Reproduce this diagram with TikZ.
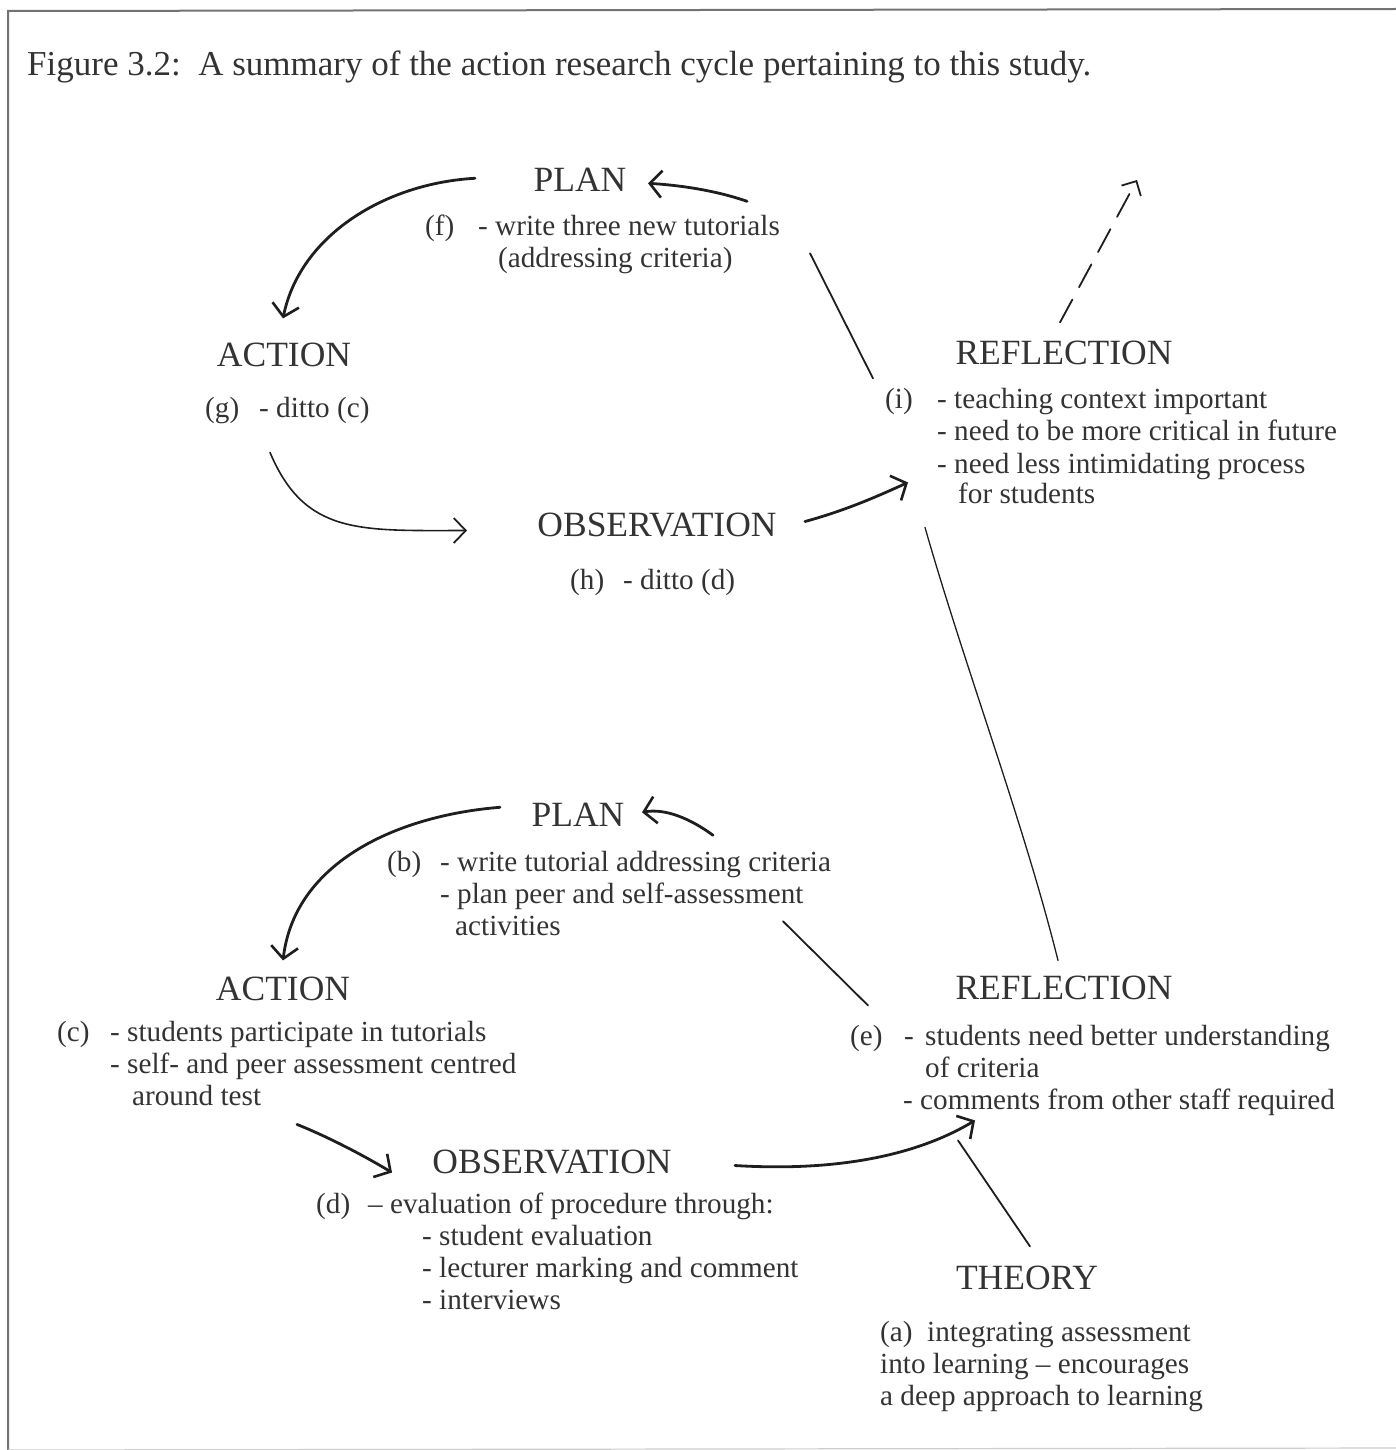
\documentclass[tikz,border=0pt]{standalone}
\usepackage{fontspec}
\setmainfont{Liberation Serif}
\usetikzlibrary{arrows.meta,calc}
\definecolor{ink}{HTML}{333333}
\definecolor{pen}{HTML}{1E1E1E}
\tikzset{
  head/.style={font=\fontsize{35.5}{40}\selectfont, inner sep=0pt, anchor=base, text=ink},
  body/.style={font=\fontsize{29.2}{34}\selectfont, inner sep=0pt, anchor=base west, text=ink},
  ttl/.style={font=\fontsize{35}{40}\selectfont, inner sep=0pt, anchor=base west, text=ink},
  heavy/.style={draw=pen, line width=2.8pt, line cap=round, -{Straight Barb[length=12pt,width=27pt,line width=2.6pt]}},
  light/.style={draw=pen, line width=1.6pt, line cap=round, -{Straight Barb[length=12pt,width=25pt,line width=1.8pt]}},
  plainline/.style={draw=pen, line width=1.8pt, line cap=round},
  thinline/.style={draw=pen, line width=1.3pt, line cap=round},
  frameline/.style={draw=black!55, line width=2pt}
}
\begin{document}
\begin{tikzpicture}[x=1pt,y=-1pt]
\useasboundingbox (0,0) rectangle (1396,1450);
% frame
\coordinate (ftl) at (8,11);
\coordinate (ftr) at (1396,9);
\coordinate (fbl) at (8,1450);
\coordinate (fbr) at (1396,1448);
\draw[frameline] (ftr) -- (ftl) -- (fbl);
\draw[draw=black!20, line width=1.2pt] (fbl) -- (fbr);

% title
\node[ttl] (title) at (27,76) {Figure 3.2:\enspace A summary of the action research cycle pertaining to this study.};

% ---------- upper cycle ----------
\node[head] (plantop) at (580,192) {PLAN};
\node[body] (flab) at (425,235) {(f)};
\node[body] (fl1) at (478,235) {- write three new tutorials};
\node[body] (fl2) at (498,267) {(addressing criteria)};

\node[head] (acttop) at (284,366) {ACTION};
\node[body] (glab) at (205,417) {(g)};
\node[body] (gl1) at (259,417) {- ditto (c)};

\node[head] (obstop) at (657,536) {OBSERVATION};
\node[body] (hlab) at (570,589) {(h)};
\node[body] (hl1) at (623,589) {- ditto (d)};

\node[head] (reftop) at (1064,364) {REFLECTION};
\node[body] (ilab) at (885,408) {(i)};
\node[body] (il1) at (937,408) {- teaching context important};
\node[body] (il2) at (937,440) {- need to be more critical in future};
\node[body] (il3) at (937,473) {- need less intimidating process};
\node[body] (il4) at (958,503) {for students};

% ---------- lower cycle ----------
\node[head] (planbot) at (578,826) {PLAN};
\node[body] (blab) at (387,871) {(b)};
\node[body] (bl1) at (440,871) {- write tutorial addressing criteria};
\node[body] (bl2) at (440,903) {- plan peer and self-assessment};
\node[body] (bl3) at (455,935) {activities};

\node[head] (actbot) at (283,1000) {ACTION};
\node[body] (clab) at (57,1041) {(c)};
\node[body] (cl1) at (110,1041) {- students participate in tutorials};
\node[body] (cl2) at (110,1073) {- self- and peer assessment centred};
\node[body] (cl3) at (132,1105) {around test};

\node[head] (obsbot) at (552,1173) {OBSERVATION};
\node[body] (dlab) at (316,1213) {(d)};
\node[body] (dl1) at (368,1213) {– evaluation of procedure through:};
\node[body] (dl2) at (422,1245) {- student evaluation};
\node[body] (dl3) at (422,1277) {- lecturer marking and comment};
\node[body] (dl4) at (422,1309) {- interviews};

\node[head] (refbot) at (1064,999) {REFLECTION};
\node[body] (elab) at (850,1045) {(e)};
\node[body] (edash) at (904,1045) {-};
\node[body] (el1) at (925,1045) {students need better understanding};
\node[body] (el2) at (925,1077) {of criteria};
\node[body] (el3) at (903,1109) {- comments from other staff required};

\node[head] (theory) at (1027,1289) {THEORY};
\node[body] (al1) at (880,1341) {(a)\enspace integrating assessment};
\node[body] (al2) at (880,1373) {into learning – encourages};
\node[body] (al3) at (880,1405) {a deep approach to learning};

% ---------- connectors (upper) ----------
\draw[heavy] ([shift={(-105,-2)}]plantop.center) .. controls +(-90,5) and +(17,-83) .. ([shift={(-1,-36)}]acttop.center);
\draw[heavy] ([shift={(167,21)}]plantop.center) .. controls +(-32,-11) and +(32,2) .. ([shift={(68,3)}]plantop.center);
\draw[plainline] ([shift={(-191,26)}]reftop.center) -- ([shift={(230,73)}]plantop.center);
\coordinate (nextcycle) at (1137,180);
\draw[plainline, dash pattern=on 26pt off 14pt, -{Straight Barb[length=11pt,width=22pt,line width=1.8pt]}] ([shift={(-4,-30)}]reftop.center) -- (nextcycle);
\draw[light] ([shift={(-14,98)}]acttop.center) .. controls +(35,83) and +(-107,0) .. ([shift={(-190,6)}]obstop.center);
\draw[heavy] ([shift={(148,-3)}]obstop.center) .. controls +(40,-11) and +(-33,15) .. ([shift={(-156,130)}]reftop.center);
\draw[thinline] ([shift={(-139,175)}]reftop.center) .. controls +(40,140) and +(-35,-140) .. ([shift={(-6,-27)}]refbot.center);

% ---------- connectors (lower) ----------
\draw[heavy] ([shift={(-78,-7)}]planbot.center) .. controls +(-100,8) and +(12,-100) .. ([shift={(0,-28)}]actbot.center);
\draw[heavy] ([shift={(135,21)}]planbot.center) .. controls +(-23,-17) and +(23,-4) .. ([shift={(64,-2)}]planbot.center);
\draw[plainline] ([shift={(-196,18)}]refbot.center) -- ([shift={(205,107)}]planbot.center);
\draw[heavy] ([shift={(14,136)}]actbot.center) .. controls +(30,12) and +(-30,-18) .. ([shift={(-160,11)}]obsbot.center);
\draw[heavy] ([shift={(183,4)}]obsbot.center) .. controls +(115,7) and +(-50,30) .. ([shift={(-89,133)}]refbot.center);
\draw[plainline] ([shift={(3,-31)}]theory.center) -- ([shift={(-106,153)}]refbot.center);
\end{tikzpicture}
\end{document}
